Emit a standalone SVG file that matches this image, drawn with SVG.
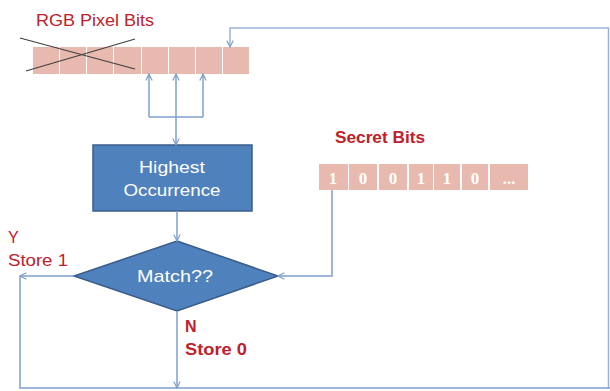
<svg xmlns="http://www.w3.org/2000/svg" width="610" height="391" viewBox="0 0 610 391">
<defs>
<style>
.cell{fill:#e8b9ae}
.conn{fill:none;stroke:#7f9fcf;stroke-width:1.5}
.red{fill:#c0202a;font-family:"Liberation Sans",Arial,sans-serif;font-size:16px}
.bold{font-weight:bold}
.wt{fill:#ffffff;font-family:"Liberation Sans",Arial,sans-serif;font-size:17px;text-anchor:middle}
.bit{fill:#ffffff;font-family:"Liberation Serif","DejaVu Serif",serif;font-size:17px;font-weight:bold;text-anchor:middle}
.shape{fill:#4f81bd;stroke:#385d8a;stroke-width:1.5}
</style>
<marker id="ah" viewBox="0 0 10 10" refX="9" refY="5" markerWidth="8" markerHeight="8" markerUnits="userSpaceOnUse" orient="auto">
<path d="M1,1 L9,5 L1,9" fill="none" stroke="#7f9fcf" stroke-width="1.5"/>
</marker>
</defs>
<rect width="610" height="391" fill="#ffffff"/>

<g id="pixel-bits">
<text class="red" x="36" y="26" font-size="17" textLength="118" lengthAdjust="spacingAndGlyphs">RGB Pixel Bits</text>
<rect class="cell" x="33" y="47" width="26" height="27"/>
<rect class="cell" x="60" y="47" width="26" height="27"/>
<rect class="cell" x="87" y="47" width="26" height="27"/>
<rect class="cell" x="114" y="47" width="27" height="27"/>
<rect class="cell" x="142" y="47" width="26" height="27"/>
<rect class="cell" x="169" y="47" width="26" height="27"/>
<rect class="cell" x="196" y="47" width="26" height="27"/>
<rect class="cell" x="223" y="47" width="26" height="27"/>
<line x1="20" y1="38" x2="135" y2="69" stroke="#404040" stroke-width="1.2"/>
<line x1="26" y1="71" x2="135" y2="39" stroke="#404040" stroke-width="1.2"/>
</g>

<g id="secret-bits">
<text class="red bold" x="335" y="143" font-size="16" textLength="90" lengthAdjust="spacingAndGlyphs">Secret Bits</text>
<rect class="cell" x="319" y="164" width="29" height="26"/>
<rect class="cell" x="349" y="164" width="28" height="26"/>
<rect class="cell" x="379" y="164" width="28" height="26"/>
<rect class="cell" x="409" y="164" width="24" height="26"/>
<rect class="cell" x="434" y="164" width="26" height="26"/>
<rect class="cell" x="462" y="164" width="26" height="26"/>
<rect class="cell" x="490" y="164" width="38" height="26"/>
<text class="bit" x="333" y="184">1</text>
<text class="bit" x="363" y="184">0</text>
<text class="bit" x="393" y="184">0</text>
<text class="bit" x="421" y="184">1</text>
<text class="bit" x="447" y="184">1</text>
<text class="bit" x="475" y="184">0</text>
<text class="bit" x="509" y="184">...</text>
</g>

<g id="highest-occurrence">
<rect class="shape" x="93" y="145" width="159" height="66"/>
<text class="wt" x="172" y="173" textLength="66" lengthAdjust="spacingAndGlyphs">Highest</text>
<text class="wt" x="172" y="196" textLength="97" lengthAdjust="spacingAndGlyphs">Occurrence</text>
</g>

<g id="match">
<polygon class="shape" points="177,241 278,276 177,311 74,276"/>
<text class="wt" x="175" y="282" textLength="76" lengthAdjust="spacingAndGlyphs">Match??</text>
</g>

<g id="labels">
<text class="red" x="8" y="243" font-size="17">Y</text>
<text class="red" x="8" y="266" font-size="17" textLength="60" lengthAdjust="spacingAndGlyphs">Store 1</text>
<text class="red bold" x="185" y="332" font-size="16">N</text>
<text class="red bold" x="185" y="355" font-size="16" textLength="62" lengthAdjust="spacingAndGlyphs">Store 0</text>
</g>

<g id="connectors">
<path class="conn" d="M176,117 V145" marker-end="url(#ah)"/>
<path class="conn" d="M149,117 V74" marker-end="url(#ah)"/>
<path class="conn" d="M176,117 V74" marker-end="url(#ah)"/>
<path class="conn" d="M203,117 V74" marker-end="url(#ah)"/>
<path class="conn" d="M149,117 H203"/>
<path class="conn" d="M177,211 V241" marker-end="url(#ah)"/>
<path class="conn" d="M332,190 V276 H278" marker-end="url(#ah)"/>
<path class="conn" d="M74,276 H20" marker-end="url(#ah)"/>
<path class="conn" d="M20,276 V388 H610"/>
<path class="conn" d="M177,311 V388" marker-end="url(#ah)"/>
<path class="conn" d="M608.5,388 V28 H230 V47" marker-end="url(#ah)" stroke-opacity="0.8"/>
</g>
</svg>
